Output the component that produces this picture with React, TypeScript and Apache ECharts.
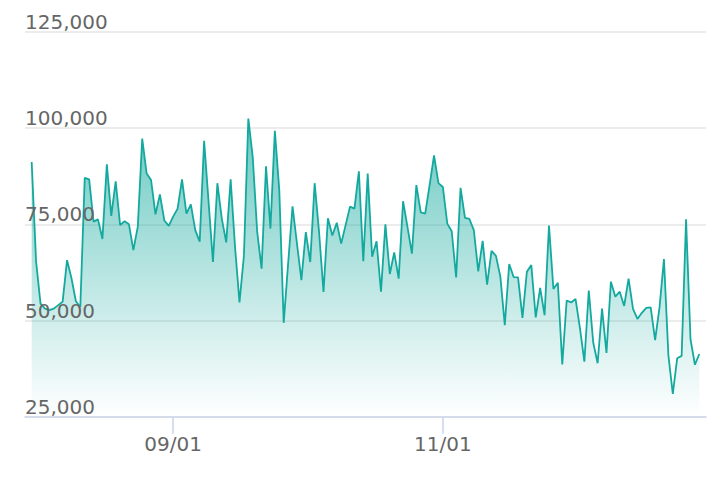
import React, { useEffect, useRef } from "react";
import * as echarts from "echarts";

// Daily series, first day 2023-07-31 (UTC)
const startYear = 2023;
const startMonth = 6; // July (0-based)
const startDay = 31;

const values: number[] = [
  91200, 65300, 54400, 53100, 52700, 53100, 54000, 54900, 65700, 61000,
  55000, 53500, 87100, 86700, 75700, 76300, 71200, 90600, 77200, 86200,
  74800, 75800, 75000, 68300, 74400, 97300, 88200, 86500, 77600, 82800,
  76000, 74600, 77000, 79100, 86700, 77800, 80200, 73500, 70500, 96700,
  81000, 65200, 85700, 76500, 70300, 86700, 69000, 54700, 66800, 102500,
  92500, 73100, 63500, 90100, 73900, 99300, 83900, 49400, 64800, 79700,
  70000, 60500, 73000, 65200, 85700, 73000, 57400, 76600, 72100, 75400,
  70000, 74800, 79600, 79100, 88800, 65400, 88200, 66600, 70600, 57500,
  75000, 62100, 67700, 60900, 81000, 74300, 67400, 85200, 78100, 77800,
  85200, 92900, 85700, 84700, 75200, 73200, 61200, 84500, 76700, 76400,
  73500, 62800, 70700, 59300, 68100, 66800, 61400, 48800, 64700, 61300,
  61200, 50700, 62700, 64400, 50800, 58500, 51400, 74700, 58200, 59800,
  38600, 55200, 54700, 55600, 48000, 39300, 57800, 44300, 38900, 53100,
  41600, 60100, 56200, 57500, 53800, 60900, 53000, 50400, 52000, 53300,
  53400, 44900, 53400, 66000, 41000, 30900, 40200, 40800, 76300, 45200,
  38500, 41300,
];

const yTicks: number[] = [25000, 50000, 75000, 100000, 125000];
const xTickLabels: string[] = ["09/01", "11/01"];

const DAY = 86400000;

const pad2 = (n: number) => (n < 10 ? "0" + n : "" + n);

export default function App() {
  const ref = useRef<HTMLDivElement | null>(null);

  useEffect(() => {
    if (!ref.current) return;
    const chart = echarts.init(ref.current, undefined, { renderer: "svg" });
    const t0 = Date.UTC(startYear, startMonth, startDay);
    const data = values.map((v, i) => [t0 + i * DAY, v]);
    const tEnd = t0 + (values.length - 1) * DAY;
    const padDays = 0.01 * (values.length - 1);
    const lineColor = "#14a99e";
    const labelStyle = {
      color: "#666666",
      fontSize: 20,
      fontFamily: "DejaVu Sans",
    };
    const yMin = yTicks[0];
    const yMax = yTicks[yTicks.length - 1];
    const yInterval = yTicks[1] - yTicks[0];

    chart.setOption({
      animation: false,
      useUTC: true,
      backgroundColor: "#ffffff",
      grid: { left: 25, right: 22, top: 32, bottom: 65.3, containLabel: false },
      xAxis: {
        type: "time",
        min: t0 - padDays * DAY,
        max: tEnd + padDays * DAY,
        splitNumber: 2,
        axisLine: { show: true, lineStyle: { color: "#ccd6eb", width: 1.6 } },
        axisTick: { show: true, length: 17, lineStyle: { color: "#ccd6eb", width: 1.6 } },
        axisLabel: {
          ...labelStyle,
          margin: 17,
          formatter: (v: number) => {
            const d = new Date(v);
            const s = pad2(d.getUTCMonth() + 1) + "/" + pad2(d.getUTCDate());
            return xTickLabels.indexOf(s) >= 0 ? s : "";
          },
        },
        splitLine: { show: false },
      },
      yAxis: [
        {
          type: "value",
          min: yMin,
          max: yMax,
          interval: yInterval,
          axisLine: { show: false },
          axisTick: { show: false },
          axisLabel: { show: false },
          splitLine: { show: true, lineStyle: { color: "#e6e6e6", width: 1.6 } },
          z: 0,
        },
        {
          type: "value",
          position: "left",
          min: yMin,
          max: yMax,
          interval: yInterval,
          axisLine: { show: false },
          axisTick: { show: false },
          splitLine: { show: false },
          axisLabel: {
            ...labelStyle,
            inside: true,
            margin: 0,
            verticalAlign: "bottom",
            formatter: (v: number) => v.toLocaleString("en-US"),
          },
          z: 10,
        },
      ],
      series: [
        {
          type: "line",
          yAxisIndex: 0,
          data,
          showSymbol: false,
          symbol: "none",
          lineStyle: { color: lineColor, width: 1.8 },
          itemStyle: { color: lineColor },
          areaStyle: {
            origin: "start",
            color: new echarts.graphic.LinearGradient(0, 0, 0, 1, [
              { offset: 0, color: "rgba(20,169,158,0.9)" },
              { offset: 1, color: "rgba(20,169,158,0)" },
            ]),
          },
          z: 2,
        },
      ],
    });

    return () => chart.dispose();
  }, []);

  return (
    <div
      ref={ref}
      style={{ position: "fixed", left: 0, top: 0, width: 728, height: 482 }}
    />
  );
}
